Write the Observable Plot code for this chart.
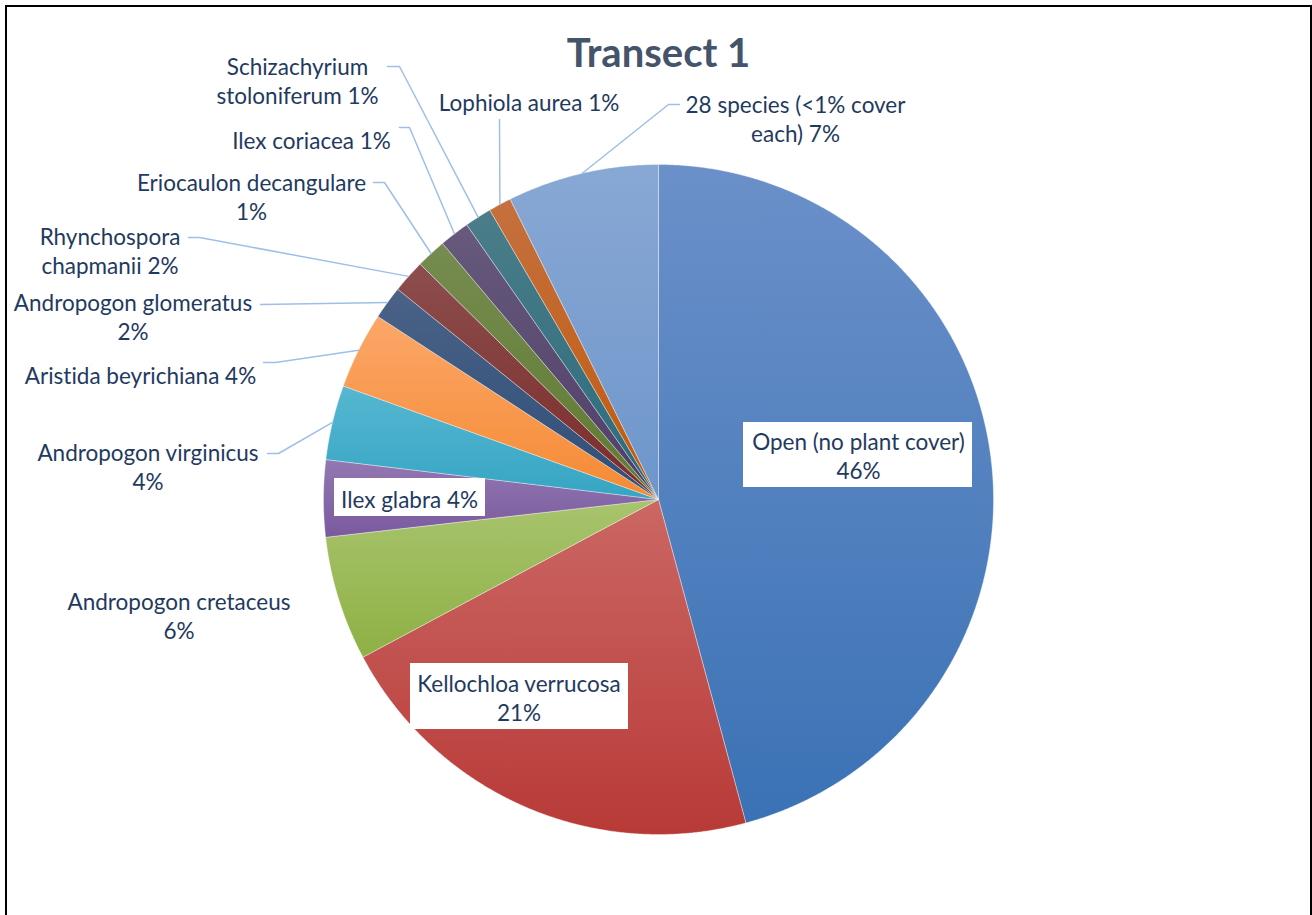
<!DOCTYPE html>
<html><head><meta charset="utf-8">
<script src="https://cdn.jsdelivr.net/npm/d3@7"></script>
<script src="https://cdn.jsdelivr.net/npm/@observablehq/plot@0.6"></script>
<style>
body{margin:0;background:#fff;}
#wrap{position:relative;width:1312px;height:915px;overflow:hidden;}
#border{position:absolute;left:5px;top:5px;width:1307px;height:1000px;box-sizing:border-box;border:2px solid #000;pointer-events:none;}
svg text{font-variant-ligatures:none;font-feature-settings:"liga" 0;}
</style></head><body>
<div id="wrap"><div id="chart"></div><div id="border"></div></div>
<script>
// ---- data ----
const title = "Transect 1";
const categories = [
  "Open (no plant cover)", "Kellochloa verrucosa", "Andropogon cretaceus", "Ilex glabra",
  "Andropogon virginicus", "Aristida beyrichiana", "Andropogon glomeratus", "Rhynchospora chapmanii",
  "Eriocaulon decangulare", "Ilex coriacea", "Schizachyrium stoloniferum", "Lophiola aurea",
  "28 species (<1% cover each)"
];
const values = [45.8, 21.4, 6.0, 3.7, 3.6, 3.7, 1.6, 1.6, 1.45, 1.45, 1.3, 1.1, 7.3];
// word index before which the label wraps (-1 = name and percent on one line)
const labelBreaks = [4, 2, 2, -1, 2, -1, 2, 1, 2, -1, 1, -1, 4];

// ---- styles ----
const topColors    = ["#6b90c9","#cb6764","#a8c46e","#9278b1","#56b7d1","#fba769","#4a6286","#8c4e4d","#768c50","#675a7c","#4b7d89","#c5703f","#88a8d4"];
const bottomColors = ["#3a72b5","#b83a37","#8eb044","#7a5a9e","#35a5c3","#f58a33","#2f4e78","#7a2b29","#5f7a32","#4f3d68","#2a6b7d","#c05a0c","#6e96cb"];
const textColor = "#1f3a60";
const leaderColor = "#9fbfe9";
const FONT = "Lato, 'Noto Sans', sans-serif";

// ---- layout (pixels) ----
const W = 1312, H = 915;
const CX = 658, CY = 499, R = 335;
const titlePos = {x: 658, y: 53.5};
const labelLayout = [
  {lx: 858,   ly: 454.5, box: [743, 422, 972, 487]},
  {lx: 518.5, ly: 696.5, box: [410, 663, 628, 729]},
  {lx: 178.5, ly: 615},
  {lx: 409,   ly: 498,   box: [334, 478, 485, 516]},
  {lx: 147.5, ly: 466,   leader: [[267, 453], [278, 453]]},
  {lx: 140,   ly: 374.5, leader: [[263, 362], [275, 362]]},
  {lx: 132.5, ly: 316,   leader: [[260, 304]]},
  {lx: 109.5, ly: 250,   leader: [[188, 237], [199, 237]]},
  {lx: 251,   ly: 196,   leader: [[373, 182], [384, 182]]},
  {lx: 311,   ly: 139,   leader: [[399, 127], [409, 127]]},
  {lx: 297,   ly: 80,    leader: [[387, 66], [399, 66]]},
  {lx: 528.5, ly: 101,   leader: [[499, 119]]},
  {lx: 795,   ly: 118,   leader: [[679, 104], [668, 104]]}
];

// ---- derived ----
const total = d3.sum(values);
const fmt = d3.format(".0%");
const data = categories.map((name, i) => ({name, value: values[i], i}));
const arcs = d3.pie().sort(null).value(d => d.value)(data);
const pt = (a, r) => [CX + r * Math.sin(a), CY - r * Math.cos(a)];

const slices = arcs.map(a => {
  const pts = [{x: CX, y: CY}];
  const n = Math.max(2, Math.ceil((a.endAngle - a.startAngle) / (Math.PI / 720)));
  for (let k = 0; k <= n; k++) {
    const ang = a.startAngle + (a.endAngle - a.startAngle) * k / n;
    const [x, y] = pt(ang, R);
    pts.push({x, y});
  }
  pts.push({x: CX, y: CY});
  return pts;
});

const labels = data.map((d, i) => {
  const words = d.name.split(" ");
  const pct = fmt(d.value / total);
  const b = labelBreaks[i];
  let text;
  if (b < 0) text = d.name + " " + pct;
  else if (b >= words.length) text = d.name + "\n" + pct;
  else text = words.slice(0, b).join(" ") + "\n" + words.slice(b).join(" ") + " " + pct;
  return {...labelLayout[i], text};
});

const boxes = labelLayout.filter(l => l.box).map(l => ({x1: l.box[0], y1: l.box[1], x2: l.box[2], y2: l.box[3]}));

const leaders = [];
arcs.forEach((a, i) => {
  const l = labelLayout[i];
  if (!l.leader) return;
  const mid = (a.startAngle + a.endAngle) / 2;
  const [ex, ey] = pt(mid, R);
  l.leader.forEach(([x, y]) => leaders.push({x, y, i}));
  leaders.push({x: ex, y: ey, i});
});

const marks = [];
slices.forEach((pts, i) => {
  marks.push(Plot.line(pts, {x: "x", y: "y", fill: `url(#slicegrad${i})`, stroke: "#ffffff", strokeOpacity: 0.45, strokeWidth: 0.8, strokeLinejoin: "round"}));
});
marks.push(Plot.line(leaders, {x: "x", y: "y", z: "i", stroke: leaderColor, strokeWidth: 1.5}));
marks.push(Plot.rect(boxes, {x1: "x1", x2: "x2", y1: "y1", y2: "y2", fill: "white"}));
marks.push(Plot.text(labels, {x: "lx", y: "ly", text: "text", fontSize: 22.5, lineHeight: 1.3, fill: textColor, fontFamily: FONT, textAnchor: "middle"}));
marks.push(Plot.text([titlePos], {x: "x", y: "y", text: () => title, fontSize: 40, fontWeight: "bold", fill: "#44546a", fontFamily: FONT, textAnchor: "middle"}));

const svg = Plot.plot({
  width: W, height: H, margin: 0,
  style: {background: "white", overflow: "visible"},
  x: {domain: [0, W], range: [0, W], axis: null},
  y: {domain: [0, H], range: [0, H], axis: null},
  marks
});

const defs = d3.select(svg).insert("defs", ":first-child");
topColors.forEach((c, i) => {
  const g = defs.append("linearGradient").attr("id", `slicegrad${i}`).attr("x1", 0).attr("y1", 0).attr("x2", 0).attr("y2", 1);
  g.append("stop").attr("offset", "0%").attr("stop-color", c);
  g.append("stop").attr("offset", "100%").attr("stop-color", bottomColors[i]);
});

document.getElementById("chart").appendChild(svg);
</script>
</body></html>
